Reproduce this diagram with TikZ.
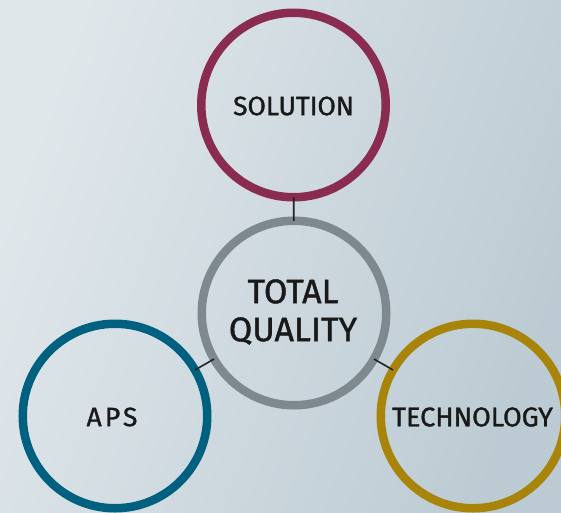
\documentclass[tikz,border=0pt]{standalone}
\usepackage{fontspec}
\setmainfont{Fira Sans}[FakeBold=1.2]
\definecolor{solc}{HTML}{8A2C50}
\definecolor{tqc}{HTML}{7E888F}
\definecolor{apsc}{HTML}{00607F}
\definecolor{techc}{HTML}{A8840A}
\definecolor{bgA}{HTML}{E0E7EB}
\definecolor{bgB}{HTML}{BCCBD3}
\definecolor{linkc}{HTML}{222222}
\begin{document}
\begin{tikzpicture}[x=1pt,y=-1pt,
  ring/.style={circle,draw=#1,line width=8.5pt,minimum size=184.5pt,inner sep=0pt,outer sep=0pt},
  lbl/.style={text=black!90,align=center,font=\fontsize{26.5}{30}\selectfont},
  link/.style={draw=linkc,line width=1.6pt}]
\useasboundingbox (0,0) rectangle (561,512);
\clip (0,0) rectangle (561,512);
\shade[shading=axis,left color=bgA,right color=bgB,shading angle=70] (0,0) rectangle (561,512);
\node[ring=solc] (sol) at (293.5,105) {};
\node[ring=tqc] (tq) at (294,313) {};
\node[ring=apsc] (aps) at (115,416) {};
\node[ring=techc] (tech) at (473,416) {};
\draw[link] (sol) -- (tq);
\draw[link] (tq) -- (aps);
\draw[link] (tq) -- (tech);
\node[lbl] (tsol) at (293.5,106) {SOLUTION};
\node[lbl,font=\fontsize{34}{38}\selectfont] (ttq) at (293,312) {TOTAL\\QUALITY};
\node[lbl,font=\addfontfeature{LetterSpace=12}\fontsize{26.5}{30}\selectfont] (taps) at (112,417) {APS};
\node[lbl,font=\fontsize{27}{30}\selectfont] (ttech) at (472.5,417) {TECHNOLOGY};
\end{tikzpicture}
\end{document}
